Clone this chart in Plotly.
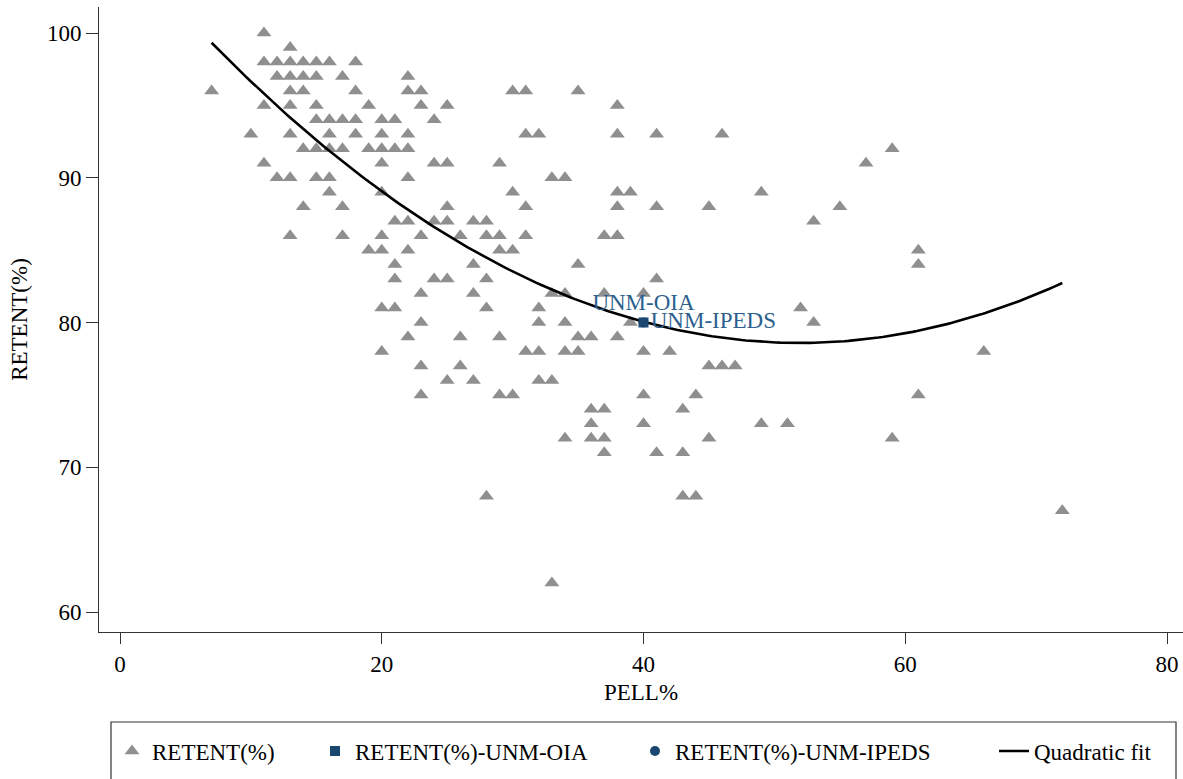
import numpy as np
import plotly.graph_objects as go

# ---- data ----
pell = [11,
        13,
        11, 12, 13, 14, 15, 16, 18,
        12, 13, 14, 15, 17, 22,
        7, 13, 14, 18, 22, 23, 30, 31, 35,
        11, 13, 15, 19, 23, 25, 38,
        15, 16, 17, 18, 20, 21, 24,
        10, 13, 16, 18, 20, 22, 31, 32, 38, 41, 46,
        14, 15, 16, 17, 19, 20, 21, 22, 59,
        11, 20, 24, 25, 29, 57,
        12, 13, 15, 16, 22, 33, 34,
        16, 20, 30, 38, 39, 49,
        14, 17, 25, 31, 38, 41, 45, 55,
        21, 22, 24, 25, 27, 28, 53,
        13, 17, 20, 23, 26, 28, 29, 31, 37, 38,
        19, 20, 22, 29, 30, 61,
        21, 27, 35, 61,
        21, 24, 25, 28, 41,
        23, 27, 33, 34, 37, 40,
        20, 21, 28, 32, 52,
        23, 32, 34, 39, 53,
        22, 26, 29, 35, 36, 38,
        20, 31, 32, 34, 35, 40, 42, 66,
        23, 26, 45, 46, 47,
        25, 27, 32, 33,
        23, 29, 30, 40, 44, 61,
        36, 37, 43,
        36, 40, 49, 51,
        34, 36, 37, 45, 59,
        37, 41, 43,
        28, 43, 44,
        72,
        33]

retent = [100,
          99,
          98, 98, 98, 98, 98, 98, 98,
          97, 97, 97, 97, 97, 97,
          96, 96, 96, 96, 96, 96, 96, 96, 96,
          95, 95, 95, 95, 95, 95, 95,
          94, 94, 94, 94, 94, 94, 94,
          93, 93, 93, 93, 93, 93, 93, 93, 93, 93, 93,
          92, 92, 92, 92, 92, 92, 92, 92, 92,
          91, 91, 91, 91, 91, 91,
          90, 90, 90, 90, 90, 90, 90,
          89, 89, 89, 89, 89, 89,
          88, 88, 88, 88, 88, 88, 88, 88,
          87, 87, 87, 87, 87, 87, 87,
          86, 86, 86, 86, 86, 86, 86, 86, 86, 86,
          85, 85, 85, 85, 85, 85,
          84, 84, 84, 84,
          83, 83, 83, 83, 83,
          82, 82, 82, 82, 82, 82,
          81, 81, 81, 81, 81,
          80, 80, 80, 80, 80,
          79, 79, 79, 79, 79, 79,
          78, 78, 78, 78, 78, 78, 78, 78,
          77, 77, 77, 77, 77,
          76, 76, 76, 76,
          75, 75, 75, 75, 75, 75,
          74, 74, 74,
          73, 73, 73, 73,
          72, 72, 72, 72, 72,
          71, 71, 71,
          68, 68, 68,
          67,
          62]

unm_oia_pell = [40]
unm_oia_retent = [80]
unm_oia_label = ["UNM-OIA"]
unm_ipeds_pell = [40]
unm_ipeds_retent = [80]
unm_ipeds_label = ["UNM-IPEDS"]

x_ticks = [0, 20, 40, 60, 80]
y_ticks = [60, 70, 80, 90, 100]

assert len(pell) == len(retent)

# quadratic fit (as Stata qfit)
coef = np.polyfit(pell, retent, 2)
fit_x = np.linspace(min(pell), max(pell), 200)
fit_y = np.polyval(coef, fit_x)

FONT = "'Liberation Serif', 'Times New Roman', Times, serif"
FS = 23
NAVY = "#1a476f"
GRAY = "#8f8f8f"

fig = go.Figure()
fig.add_trace(go.Scatter(
    x=pell, y=retent, mode="markers", name="RETENT(%)",
    marker=dict(symbol="triangle-up", size=13, color=GRAY, line=dict(width=0)),
    legend="legend"))
fig.add_trace(go.Scatter(
    x=fit_x, y=fit_y, mode="lines", name="Quadratic fit",
    line=dict(color="black", width=2.6), legend="legend4"))
fig.add_trace(go.Scatter(
    x=unm_ipeds_pell, y=unm_ipeds_retent, mode="markers+text", name="RETENT(%)-UNM-IPEDS",
    text=unm_ipeds_label, textposition="middle right",
    textfont=dict(family=FONT, size=FS, color="#2d5f8f"),
    marker=dict(symbol="circle", size=10, color=NAVY), legend="legend3"))
fig.add_trace(go.Scatter(
    x=unm_oia_pell, y=unm_oia_retent, mode="markers+text", name="RETENT(%)-UNM-OIA",
    text=unm_oia_label, textposition="top center",
    textfont=dict(family=FONT, size=FS, color="#2d5f8f"),
    marker=dict(symbol="square", size=10, color=NAVY), legend="legend2"))

W, H = 1183, 779
# plot area in page pixels
PL, PR, PT, PB = 99, 1183, 7, 632
L, R, T, B = PL, W - PR, PT, H - PB
pw, ph = PR - PL, PB - PT


def px_x(p):
    return (p - PL) / pw


def px_y(p):
    return (PB - p) / ph


leg_y = px_y(751)
legend_common = dict(orientation="h", yanchor="middle", xanchor="left", y=leg_y,
                     bgcolor="rgba(0,0,0,0)", borderwidth=0,
                     font=dict(family=FONT, size=FS, color="black"))

fig.update_layout(
    width=W, height=H,
    margin=dict(l=L, r=R, t=T, b=B, autoexpand=False, pad=0),
    paper_bgcolor="white", plot_bgcolor="white",
    font=dict(family=FONT, size=FS, color="black"),
    showlegend=True,
    legend=dict(x=px_x(112), **legend_common),
    legend2=dict(x=px_x(315), **legend_common),
    legend3=dict(x=px_x(635), **legend_common),
    legend4=dict(x=px_x(994), **legend_common),
    xaxis=dict(range=[(PL - 120) / 13.0875, (PR - 120) / 13.0875],
               tickvals=x_ticks, ticks="outside", ticklen=11, tickwidth=1,
               tickcolor="#333", showline=True, linecolor="#333", linewidth=1,
               showgrid=False, zeroline=False, automargin=False,
               tickfont=dict(family=FONT, size=FS, color="black"),
               title=dict(text="PELL%", standoff=8,
                          font=dict(family=FONT, size=FS, color="black"))),
    yaxis=dict(range=[60 - (PB - 612) / 14.475, 100 + (33 - PT) / 14.475],
               tickvals=y_ticks, ticks="outside", ticklen=12, tickwidth=1,
               tickcolor="#333", showline=True, linecolor="#333", linewidth=1,
               showgrid=False, zeroline=False, automargin=False,
               tickfont=dict(family=FONT, size=FS, color="black"),
               title=dict(text="RETENT(%)", standoff=12,
                          font=dict(family=FONT, size=FS, color="black"))),
    shapes=[dict(type="rect", xref="paper", yref="paper",
                 x0=px_x(111), x1=px_x(1176), y0=px_y(795), y1=px_y(722),
                 line=dict(color="#333", width=1.2), fillcolor="rgba(0,0,0,0)")],
)

# remove the browser's default 8px page margin so the figure sits at the page origin
fig.write_html("out.html",
               config={"displayModeBar": False},
               post_script="document.body.style.margin='0';document.body.style.overflow='hidden';")
